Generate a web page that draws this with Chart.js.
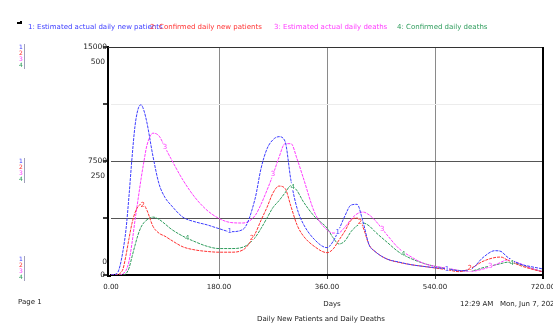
<!DOCTYPE html>
<html>
<head>
<meta charset="utf-8">
<script src="https://cdn.jsdelivr.net/npm/chart.js@4"></script>
<style>
  html, body { margin: 0; padding: 0; background: #fff; }
  #wrap { width: 553px; height: 327px; }
</style>
</head>
<body>
<div id="wrap"><canvas id="myChart" width="553" height="327"></canvas></div>
<script>
// Days on the x axis (simulation time)
const days = [0, 10, 15, 20, 25, 30, 35, 40, 45, 50, 55, 60, 70, 80, 90, 100, 120, 140, 160, 180,
  200, 220, 240, 250, 260, 270, 280, 290, 300, 310, 320, 340, 360, 370, 380, 390, 400, 410, 420, 430,
  440, 460, 480, 500, 520, 540, 560, 580, 600, 620, 640, 650, 660, 680, 700, 720];

// 1: Estimated actual daily new patients (scale 0-15000)
const estPatients = [0, 100, 600, 1600, 3000, 5200, 7700, 9800, 10900, 11200, 10800, 10000, 7800, 6000, 5100, 4600, 3800, 3500, 3300, 3050,
  2850, 3000, 5000, 7000, 8300, 8900, 9100, 8800, 6200, 4400, 3400, 2300, 1800, 2200, 3000, 3900, 4600, 4650, 3500, 2000,
  1550, 1050, 850, 680, 570, 480, 400, 280, 380, 1150, 1600, 1550, 1200, 750, 550, 400];
// 2: Confirmed daily new patients (scale 0-15000)
const confPatients = [0, 0, 100, 400, 1300, 2400, 3400, 4100, 4500, 4650, 4600, 4250, 3200, 2750, 2550, 2300, 1850, 1650, 1550, 1500,
  1500, 1650, 2700, 3600, 4450, 5400, 5850, 5700, 4500, 3300, 2600, 1850, 1470, 1700, 2300, 2900, 3600, 3750, 3150, 2000,
  1550, 1050, 830, 680, 570, 460, 350, 220, 450, 900, 1150, 1180, 1000, 650, 400, 200];
// 3: Estimated actual daily deaths (scale 0-500)
const estDeaths = [0, 0, 0, 3, 10, 30, 70, 120, 165, 210, 250, 285, 311, 305, 280, 255, 208, 170, 142, 124,
  115, 114, 130, 155, 186, 220, 258, 288, 288, 255, 215, 135, 99, 92, 93, 105, 122, 134, 138, 132,
  120, 88, 58, 40, 26, 19, 15, 10, 8, 13, 22, 28, 33, 26, 15, 7];
// 4: Confirmed daily deaths (scale 0-500)
const confDeaths = [0, 0, 0, 0, 3, 15, 40, 65, 88, 105, 115, 121, 127, 122, 112, 101, 85, 73, 63, 58,
  58, 61, 82, 102, 125, 148, 163, 180, 196, 185, 162, 127, 103, 82, 68, 75, 95, 108, 114, 108,
  95, 72, 50, 36, 26, 19, 14, 10, 9, 16, 22, 25, 28, 24, 15, 7];

const seriesNames = [
  '1: Estimated actual daily new patients',
  '2: Confirmed daily new patients',
  '3: Estimated actual daily deaths',
  '4: Confirmed daily deaths',
];
const seriesValues = [estPatients, confPatients, estDeaths, confDeaths];
const seriesAxis = ['y', 'y', 'y2', 'y2'];
const seriesColors = ['#3c3cff', '#ff3030', '#ff3cff', '#2e9c5c'];
// days at which the curve number is written on each line
const markerDays = [[198, 378, 560], [53, 235, 415, 598], [90, 270, 452, 632], [127, 303, 487, 668]];

const xTicks = [0, 180, 360, 540, 720];
const patientTicks = ['15000', '7500', '0'];
const deathTicks = ['500', '250', '0'];

const FONT = '"DejaVu Sans", Verdana, sans-serif';
const AXIS_GAP = 3; // the left axis line sits a little left of day 0

const valueAt = (vals, day) => {
  for (let i = 0; i < days.length - 1; i++) {
    if (day >= days[i] && day <= days[i + 1]) {
      const t = (day - days[i]) / (days[i + 1] - days[i]);
      return vals[i] + t * (vals[i + 1] - vals[i]);
    }
  }
  return vals[vals.length - 1];
};

const datasets = seriesValues.map((vals, i) => ({
  label: seriesNames[i],
  data: days.map((d, j) => ({x: d, y: vals[j]})),
  yAxisID: seriesAxis[i],
  borderColor: seriesColors[i],
  borderWidth: 1,
  borderDash: [3, 1],
  pointRadius: 0,
  cubicInterpolationMode: 'monotone',
  fill: false,
}));

const textPlugin = {
  id: 'vensimText',
  afterDraw: (chart) => {
    const ctx = chart.ctx;
    const area = chart.chartArea;
    const x = chart.scales.x;
    const y = chart.scales.y;
    const y2 = chart.scales.y2;
    const axisX = area.left - AXIS_GAP;
    ctx.save();

    // frame: left axis, bottom extension, right border, tick marks
    ctx.strokeStyle = '#000';
    ctx.lineWidth = 2;
    ctx.beginPath();
    ctx.moveTo(axisX, area.top - 1);
    ctx.lineTo(axisX, area.bottom + 1);
    ctx.lineTo(area.left, area.bottom + 1);
    ctx.stroke();
    ctx.beginPath();
    ctx.moveTo(area.right, area.top);
    ctx.lineTo(area.right, area.bottom + 4);
    ctx.stroke();
    ctx.lineWidth = 1;
    ctx.strokeStyle = '#333';
    ctx.beginPath();
    ctx.moveTo(axisX, area.top + 0.5);
    ctx.lineTo(area.left, area.top + 0.5);
    ctx.stroke();
    ctx.strokeStyle = '#000';
    ctx.lineWidth = 1.5;
    [15000, 11250, 7500, 3750, 0].forEach((v) => {
      const py = y.getPixelForValue(v);
      ctx.beginPath();
      ctx.moveTo(axisX - 5, py);
      ctx.lineTo(axisX, py);
      ctx.stroke();
    });

    // legend line at the top
    ctx.font = '7px ' + FONT;
    ctx.textBaseline = 'middle';
    ctx.textAlign = 'left';
    const legendX = [28, 150, 274, 397];
    const legendW = [140, 118, 116, 94];
    seriesNames.forEach((name, i) => {
      ctx.fillStyle = seriesColors[i];
      ctx.fillText(name, legendX[i], 27, legendW[i]);
    });
    ctx.fillStyle = '#000';
    ctx.fillRect(17, 22, 5, 2);
    ctx.fillRect(20, 21, 2, 2);

    // y labels: patients above, deaths below
    ctx.textAlign = 'right';
    ctx.font = '7.5px ' + FONT;
    ctx.fillStyle = '#222';
    [15000, 7500, 0].forEach((v, i) => {
      ctx.fillText(patientTicks[i], axisX - 1, y.getPixelForValue(v) - (i === 2 ? 13 : 0));
    });
    [500, 250, 0].forEach((v, i) => {
      ctx.fillText(deathTicks[i], axisX - 3, y2.getPixelForValue(v) + (i === 2 ? 0 : 15));
    });

    // small stacked series numbers at the far left
    ctx.textAlign = 'center';
    ctx.font = '6px ' + FONT;
    [15000, 7500, 0].forEach((v, k) => {
      const base = y.getPixelForValue(v) + (k === 2 ? -16 : 0);
      for (let i = 0; i < 4; i++) {
        ctx.fillStyle = seriesColors[i];
        ctx.fillText(String(i + 1), 21, base + i * 6.2);
      }
      ctx.strokeStyle = '#8888aa';
      ctx.lineWidth = 0.8;
      ctx.beginPath();
      ctx.moveTo(24.5, base - 3);
      ctx.lineTo(24.5, base + 22);
      ctx.stroke();
    });

    // curve numbers written on the lines
    ctx.font = '7px ' + FONT;
    markerDays.forEach((list, i) => {
      const sc = chart.scales[seriesAxis[i]];
      list.forEach((d) => {
        const px = x.getPixelForValue(d);
        const py = sc.getPixelForValue(valueAt(seriesValues[i], d));
        ctx.fillStyle = '#fff';
        ctx.fillRect(px - 2, py - 4, 4, 7);
        ctx.fillStyle = seriesColors[i];
        ctx.fillText(String(i + 1), px, py);
      });
    });

    // footer texts
    ctx.fillStyle = '#222';
    ctx.font = '7px ' + FONT;
    ctx.textAlign = 'left';
    ctx.fillText('Page 1', 18, 302);
    ctx.fillText('12:29 AM   Mon, Jun 7, 2021', 460, 304);
    ctx.textAlign = 'center';
    ctx.fillText('Days', 332, 304);
    ctx.fillText('Daily New Patients and Daily Deaths', 321, 319);
    ctx.restore();
  },
};

const ctx = document.getElementById('myChart').getContext('2d');
new Chart(ctx, {
  type: 'line',
  data: {datasets},
  options: {
    responsive: false,
    animation: false,
    devicePixelRatio: 1,
    layout: {padding: {left: 111, right: 10, top: 47, bottom: 32}},
    plugins: {legend: {display: false}, tooltip: {enabled: false}},
    scales: {
      x: {
        type: 'linear',
        min: 0,
        max: 720,
        afterBuildTicks: (scale) => {
          scale.ticks = xTicks.map((v) => ({value: v}));
        },
        afterFit: (scale) => {
          scale.height = 20;
          scale.paddingLeft = 0;
          scale.paddingRight = 0;
        },
        ticks: {
          callback: (v) => Number(v).toFixed(2),
          font: {size: 7, family: FONT},
          color: '#222',
          padding: 4,
          maxRotation: 0,
          autoSkip: false,
        },
        grid: {
          color: (c) => (c.tick && (c.tick.value === 0 || c.tick.value === 720)) ? 'rgba(0,0,0,0)' : '#8a8a8a',
          tickColor: (c) => (c.tick && c.tick.value === 0) ? 'rgba(0,0,0,0)' : '#444',
          tickLength: 4,
          lineWidth: 1,
        },
        border: {color: '#000', width: 2},
      },
      y: {
        min: 0,
        max: 15000,
        afterBuildTicks: (scale) => {
          scale.ticks = [0, 3750, 7500, 11250, 15000].map((v) => ({value: v}));
        },
        afterFit: (scale) => {
          scale.width = 0;
        },
        ticks: {display: false},
        grid: {
          drawTicks: false,
          color: (c) => {
            const v = c.tick ? c.tick.value : 0;
            if (v === 0) return 'rgba(0,0,0,0)';
            if (v === 11250) return '#ececec';
            if (v === 15000) return '#333';
            return '#555';
          },
          lineWidth: 1,
        },
        border: {display: false},
      },
      y2: {
        min: 0,
        max: 500,
        display: false,
      },
    },
  },
  plugins: [textPlugin],
});
</script>
</body>
</html>
